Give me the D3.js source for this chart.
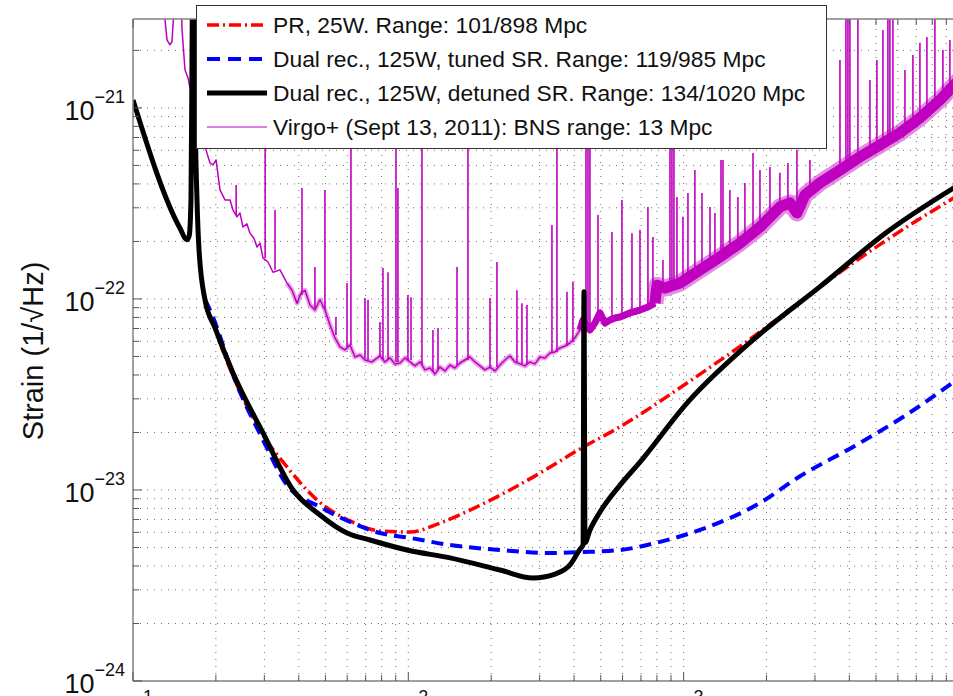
<!DOCTYPE html>
<meta charset="utf-8">
<script src="https://d3js.org/d3.v7.min.js"></script>
<style>
  body { margin: 0; background: #fff; }
  text { font-family: "Liberation Sans", Arial, Helvetica, sans-serif; }
</style>
<div id="chart"></div>
<script>

// ---- values: frequency (Hz) and strain (1/sqrt(Hz)) ----

// PR, 25W
var prFreq   = [18.26, 23.08, 29.66, 36.26, 46.6, 61.4, 78.9, 101.4, 130.4, 167.6, 234.1, 313.8, 420.5, 587.5, 1029, 1787, 3131, 5483, 10000];
var prStrain = [9.9e-23, 3.95e-23, 1.94e-23, 1.32e-23, 8.87e-24, 6.89e-24, 6.10e-24, 6.02e-24, 6.71e-24, 7.85e-24, 1.0e-23, 1.27e-23, 1.64e-23, 2.14e-23, 3.63e-23, 6.32e-23, 1.16e-22, 2.04e-22, 3.51e-22];

// Dual recycling, tuned SR
var tunedFreq   = [18.26, 19.04, 23.7, 29.66, 36.26, 47.78, 61.4, 78.9, 101.4, 141.8, 215.4, 327.2, 431.1, 587.5, 821, 1147, 1895, 2648, 4124, 6266, 10000];
var tunedStrain = [9.9e-23, 8.75e-23, 3.63e-23, 1.83e-23, 1.06e-23, 8.15e-24, 6.80e-24, 5.95e-24, 5.61e-24, 5.15e-24, 4.85e-24, 4.68e-24, 4.73e-24, 4.85e-24, 5.35e-24, 6.18e-24, 8.55e-24, 1.18e-23, 1.68e-23, 2.41e-23, 3.85e-23];

// Dual recycling, detuned SR
var detunedFreq   = [10, 14.8, 15.7, 16.0, 16.24, 16.38, 16.5, 16.65, 16.8, 17.08, 17.37, 18.26, 19.86, 23.08, 29.66, 38.13, 47.78, 59.9, 72.6, 98.9, 141.8, 215.4, 283.8, 341.2, 386.6, 420.5, 431.1, 434.7, 438.4, 457.1, 497, 587.5, 694.3, 1029, 1787, 3131, 5483, 10000];
var detunedStrain = [1.10e-21, 2.35e-22, 2.04e-22, 2.14e-22, 3.3e-22, 1.78e-21, 8e-21, 8e-21, 1.1e-21, 3.3e-22, 1.81e-22, 9.9e-23, 7.05e-23, 4.10e-23, 1.99e-23, 1.0e-23, 7.4e-24, 5.95e-24, 5.47e-24, 4.85e-24, 4.41e-24, 3.81e-24, 3.46e-24, 3.63e-24, 4.05e-24, 4.9e-24, 5.15e-24, 1.09e-22, 5.3e-24, 6.18e-24, 7.67e-24, 1.06e-23, 1.40e-23, 2.85e-23, 6.1e-23, 1.16e-22, 2.24e-22, 3.96e-22];

// Virgo+ measured sensitivity (floor of the trace)
var virgoFreq = [10, 12.8, 13.07, 13.29, 13.62, 13.85, 14.09, 14.33, 14.81, 15.07, 15.45, 15.84, 16.11, 16.38, 16.65, 17.51,
  18.41, 19.04, 19.53, 20.03, 20.70, 21.58, 22.51, 23.08, 23.86, 24.46, 25.09, 25.94, 26.60, 27.51, 28.20, 28.93, 29.66,
  30.93, 32.25, 34.20, 36.26, 37.81, 39.41, 40.75, 42.14, 43.95, 45.81, 47.77, 49.81, 51.94, 54.16, 56.47, 58.88, 61.4,
  64.0, 66.8, 69.6, 73.8, 78.9, 82.3, 85.8, 89.5, 93.3, 97.2, 101.4, 105.7, 110.3, 115.0, 119.9, 125.0, 130.3, 135.9,
  141.7, 147.7, 154.0, 160.6, 167.5, 174.6, 182.1, 189.8, 198.0, 206.4, 215.3, 224.4, 234.0, 244.0, 254.4, 265.3, 276.6,
  288.4, 300.7, 313.5, 326.9, 340.9, 355.4, 370.7, 386.5, 403.0, 420.3, 431.1, 457, 476.4, 496.8, 518.0, 540.1, 563.1,
  587.5, 638.5, 694.3, 742.0, 787.0, 800.5, 855.3, 969.8, 1147, 1356, 1602, 1894, 2238, 2434, 2580, 2759, 3128, 3698,
  4371, 5167, 6107, 7218, 8531, 10000];
var virgoStrain = [8e-21, 8e-21, 2.89e-21, 2.27e-21, 2.14e-21, 2.22e-21, 3.26e-21, 8e-21, 8e-21, 2.56e-21, 1.58e-21, 1.44e-21, 1.27e-21, 1.58e-21, 8e-21, 1.1e-21,
  6.03e-22, 5.15e-22, 5.03e-22, 5.34e-22, 3.72e-22, 3.30e-22, 3.30e-22, 2.92e-22, 2.69e-22, 2.82e-22, 2.38e-22, 2.47e-22, 2.21e-22, 2.08e-22, 1.87e-22, 1.96e-22, 1.64e-22,
  1.56e-22, 1.38e-22, 1.42e-22, 1.21e-22, 1.11e-22, 9.5e-23, 1.07e-22, 1.11e-22, 9.3e-23, 8.75e-23, 9.9e-23, 8.75e-23, 7.31e-23, 6.25e-23, 5.61e-23, 5.41e-23, 5.74e-23,
  4.97e-23, 5.09e-23, 4.79e-23, 4.68e-23, 5.03e-23, 4.68e-23, 4.91e-23, 4.57e-23, 4.62e-23, 4.91e-23, 4.68e-23, 4.46e-23, 4.68e-23, 4.25e-23, 4.35e-23, 4.05e-23, 4.40e-23, 4.20e-23,
  4.51e-23, 4.35e-23, 4.62e-23, 4.79e-23, 4.97e-23, 4.68e-23, 4.46e-23, 4.25e-23, 4.40e-23, 4.20e-23, 4.51e-23, 4.79e-23, 5.03e-23, 4.68e-23, 4.57e-23, 4.46e-23, 4.68e-23,
  4.57e-23, 4.97e-23, 4.91e-23, 5.21e-23, 5.28e-23, 5.54e-23, 5.67e-23, 5.88e-23, 6.25e-23, 6.88e-23, 7.76e-23, 6.88e-23, 7.48e-23, 8.45e-23, 7.48e-23, 7.76e-23, 7.95e-23,
  8.04e-23, 8.45e-23, 8.75e-23, 9.08e-23, 9.5e-23, 1.18e-22, 1.14e-22, 1.21e-22, 1.42e-22, 1.66e-22, 1.96e-22, 2.38e-22, 3.03e-22, 3.18e-22, 2.82e-22, 3.50e-22, 4.05e-22, 4.73e-22,
  5.54e-22, 6.40e-22, 7.40e-22, 8.87e-22, 1.10e-21, 1.40e-21];

// Virgo+ spectral lines: frequency, foot and tip of each line
var lineFreq = [23.7, 30.2, 32.8, 41.1, 45.8, 49.8, 54.6, 59.9, 61.9, 69.6, 71.4, 78.9, 80.9, 84.4, 90.2, 91.7, 99.7, 102.3,
  112.1, 122.9, 128.2, 150.3, 164.7, 198.0, 209.9, 248.1, 258.7, 269.8, 332.5, 346.7, 377.0, 396.3, 441.9, 449.4, 456.9,
  488.7, 549.2, 597.0, 649.3, 694.3, 742.0, 773.8, 841.4, 892.1, 907.1, 922.4, 945.8, 994.5, 1037, 1099, 1166, 1247, 1300,
  1367, 1390, 1473, 1575, 1670, 1787, 1894, 2059, 2238, 2393, 2580, 2877, 3698, 3887, 3953, 4019, 4297, 4752, 5037, 5297,
  5523, 5616, 5759, 6368, 6808, 7218, 7653, 8182, 8748, 9275];
var lineLow = [2.75e-22, 1.64e-22, 1.42e-22, 1.05e-22, 8.97e-23, 8.75e-23, 6.48e-23, 5.61e-23, 5.74e-23, 4.91e-23, 4.79e-23, 5.03e-23, 4.79e-23, 4.79e-23, 4.68e-23, 4.68e-23, 4.79e-23, 4.79e-23,
  4.51e-23, 4.15e-23, 4.25e-23, 4.51e-23, 4.79e-23, 4.40e-23, 4.40e-23, 4.68e-23, 4.57e-23, 4.57e-23, 5.21e-23, 5.28e-23, 5.67e-23, 5.95e-23, 6.88e-23, 6.88e-23, 6.88e-23,
  7.95e-23, 7.76e-23, 8.04e-23, 8.45e-23, 8.75e-23, 9.08e-23, 9.3e-23, 1.14e-22, 1.18e-22, 1.18e-22, 1.18e-22, 1.21e-22, 1.21e-22, 1.26e-22, 1.34e-22, 1.42e-22, 1.51e-22, 1.56e-22,
  1.64e-22, 1.64e-22, 1.76e-22, 1.92e-22, 2.04e-22, 2.16e-22, 2.38e-22, 2.65e-22, 3.03e-22, 3.10e-22, 2.92e-22, 3.72e-22, 4.73e-22, 5.0e-22, 5.0e-22, 5.0e-22, 5.54e-22, 6.03e-22, 6.17e-22, 6.25e-22,
  6.40e-22, 6.40e-22, 6.56e-22, 7.67e-22, 7.95e-22, 8.87e-22, 9.2e-22, 1.0e-21, 1.10e-21, 1.17e-21];
var lineHigh = [3.95e-22, 8.65e-22, 2.92e-22, 3.81e-22, 1.47e-22, 3.72e-22, 8.04e-23, 1.21e-22, 8.65e-22, 1.01e-22, 9.9e-23, 7.58e-23, 1.45e-22, 1.38e-22, 8.65e-22, 3.81e-22, 1.05e-22, 1.02e-22,
  8.65e-22, 6.88e-23, 7.05e-23, 1.47e-22, 8.65e-22, 1.01e-22, 1.56e-22, 1.11e-22, 9.5e-23, 9.3e-23, 2.44e-22, 8.65e-22, 1.09e-22, 1.23e-22, 8.65e-22, 8.65e-22, 8.65e-22,
  2.75e-22, 2.24e-22, 3.30e-22, 2.21e-22, 2.30e-22, 3.03e-22, 2.11e-22, 1.60e-22, 8.65e-22, 8.65e-22, 8.65e-22, 3.42e-22, 2.69e-22, 3.59e-22, 4.73e-22, 3.59e-22, 3.03e-22, 2.82e-22,
  5.34e-22, 5.34e-22, 3.72e-22, 3.42e-22, 4.05e-22, 5.81e-22, 4.73e-22, 4.91e-22, 4.57e-22, 5.15e-22, 6.03e-22, 5.34e-22, 1.78e-21, 5e-21, 5e-21, 5e-21, 5e-21, 1.40e-21, 1.78e-21, 2.56e-21,
  5e-21, 5e-21, 5e-21, 1.58e-21, 1.89e-21, 2.19e-21, 2.35e-21, 5e-21, 2.01e-21, 2.27e-21];

var legendLabels = [
  "PR, 25W. Range: 101/898 Mpc",
  "Dual rec., 125W, tuned SR. Range: 119/985 Mpc",
  "Dual rec., 125W, detuned SR. Range: 134/1020 Mpc",
  "Virgo+ (Sept 13, 2011): BNS range: 13 Mpc"
];
var xTickExponents = [1, 2, 3];
var yTickExponents = [-24, -23, -22, -21];

// ---- layout ----
var width = 953, height = 696;
var plot = {left: 133, right: 958.9, top: 19, bottom: 681};

var svg = d3.select("#chart")
  .append("svg")
    .attr("width", width)
    .attr("height", height);

var x = d3.scaleLog().domain([10, 10000]).range([plot.left, plot.right]);
var y = d3.scaleLog().domain([1e-24, 2.92e-21]).range([plot.bottom, plot.top]);

// all decade + minor tick values
var xTicks = [], yTicks = [];
xTickExponents.forEach(function(e) {
  for (var k = 1; k <= 9; k++) xTicks.push(k * Math.pow(10, e));
});
yTickExponents.forEach(function(e) {
  for (var k = 1; k <= 9; k++) {
    var v = k * Math.pow(10, e);
    if (v <= y.domain()[1]) yTicks.push(v);
  }
});
function isMajor(v) { var l = Math.log10(v); return Math.abs(l - Math.round(l)) < 1e-9; }

svg.append("defs").append("clipPath").attr("id", "clip")
  .append("rect")
    .attr("x", plot.left).attr("y", plot.top)
    .attr("width", plot.right - plot.left).attr("height", plot.bottom - plot.top);

// dotted grid
var grid = svg.append("g").attr("stroke", "#444").attr("stroke-width", 1)
  .attr("stroke-dasharray", "1,6").attr("opacity", 0.75);
grid.selectAll(".gx").data(xTicks.filter(function(v) { return v > 10; }))
  .enter().append("line")
    .attr("x1", function(d) { return x(d); }).attr("x2", function(d) { return x(d); })
    .attr("y1", plot.bottom).attr("y2", plot.top);
grid.selectAll(".gy").data(yTicks.filter(function(v) { return v > 1e-24; }))
  .enter().append("line")
    .attr("y1", function(d) { return y(d); }).attr("y2", function(d) { return y(d); })
    .attr("x1", plot.left).attr("x2", plot.right);

// curves
var curves = svg.append("g").attr("clip-path", "url(#clip)");

function pairs(fs, hs) { return fs.map(function(f, i) { return {f: f, h: hs[i]}; }); }

var lineLin = d3.line().x(function(d) { return x(d.f); }).y(function(d) { return y(d.h); });
var lineSmooth = d3.line().curve(d3.curveMonotoneX)
  .x(function(d) { return x(d.f); }).y(function(d) { return y(d.h); });

var virgoColor = "#bf00bf";
var virgo = pairs(virgoFreq, virgoStrain);

// noisy band of the measured trace gets wider at high frequency
curves.append("path").datum(virgo.filter(function(d) { return d.f >= 36 && d.f <= 440; }))
  .attr("d", lineLin).attr("fill", "none").attr("stroke", virgoColor).attr("opacity", 0.35)
  .attr("stroke-width", 5).attr("stroke-linejoin", "round");
curves.append("path").datum(virgo.filter(function(d) { return d.f >= 420 && d.f <= 800; }))
  .attr("d", lineLin).attr("fill", "none").attr("stroke", virgoColor)
  .attr("stroke-width", 7).attr("stroke-linejoin", "round");
curves.append("path").datum(virgo.filter(function(d) { return d.f >= 787; }))
  .attr("d", lineLin).attr("fill", "none").attr("stroke", virgoColor).attr("opacity", 0.45)
  .attr("stroke-width", 17).attr("stroke-linejoin", "round");
curves.append("path").datum(virgo.filter(function(d) { return d.f >= 787; }))
  .attr("d", lineLin).attr("fill", "none").attr("stroke", virgoColor)
  .attr("stroke-width", 11).attr("stroke-linejoin", "round");
curves.append("path").datum(virgo)
  .attr("d", lineLin).attr("fill", "none").attr("stroke", virgoColor)
  .attr("stroke-width", 1.5).attr("stroke-linejoin", "round");

curves.selectAll(".vline").data(lineFreq.map(function(f, i) { return {f: f, lo: lineLow[i], hi: lineHigh[i]}; }))
  .enter().append("line")
    .attr("x1", function(d) { return x(d.f); }).attr("x2", function(d) { return x(d.f); })
    .attr("y1", function(d) { return y(d.lo); }).attr("y2", function(d) { return y(d.hi); })
    .attr("stroke", virgoColor).attr("stroke-width", 1.6);

curves.append("path").datum(pairs(prFreq, prStrain))
  .attr("d", lineSmooth).attr("fill", "none").attr("stroke", "#ff0000")
  .attr("stroke-width", 3.5).attr("stroke-dasharray", "12,4,2,4");

curves.append("path").datum(pairs(tunedFreq, tunedStrain))
  .attr("d", lineSmooth).attr("fill", "none").attr("stroke", "#0000ff")
  .attr("stroke-width", 4).attr("stroke-dasharray", "12,7");

curves.append("path").datum(pairs(detunedFreq, detunedStrain))
  .attr("d", lineSmooth).attr("fill", "none").attr("stroke", "#000")
  .attr("stroke-width", 5).attr("stroke-linejoin", "round");

// axes box and inward ticks
var axisColor = "#808080";
var ax = svg.append("g");
ax.append("line").attr("x1", plot.left).attr("x2", plot.left).attr("y1", plot.top).attr("y2", plot.bottom)
  .attr("stroke", axisColor).attr("stroke-width", 1.5);
ax.append("line").attr("x1", plot.left).attr("x2", plot.right).attr("y1", plot.bottom).attr("y2", plot.bottom)
  .attr("stroke", axisColor).attr("stroke-width", 1.5);
ax.append("line").attr("x1", plot.left).attr("x2", plot.right).attr("y1", plot.top).attr("y2", plot.top)
  .attr("stroke", axisColor).attr("stroke-width", 1.5);

ax.selectAll(".ty").data(yTicks).enter().append("line")
  .attr("x1", plot.left).attr("x2", function(d) { return plot.left + (isMajor(d) ? 9 : 6); })
  .attr("y1", function(d) { return y(d); }).attr("y2", function(d) { return y(d); })
  .attr("stroke", "#555").attr("stroke-width", 1);
ax.selectAll(".tx").data(xTicks).enter().append("line")
  .attr("x1", function(d) { return x(d); }).attr("x2", function(d) { return x(d); })
  .attr("y1", plot.bottom).attr("y2", function(d) { return plot.bottom - (isMajor(d) ? 9 : 6); })
  .attr("stroke", "#555").attr("stroke-width", 1);
ax.selectAll(".tt").data(xTicks).enter().append("line")
  .attr("x1", function(d) { return x(d); }).attr("x2", function(d) { return x(d); })
  .attr("y1", plot.top).attr("y2", function(d) { return plot.top + (isMajor(d) ? 9 : 6); })
  .attr("stroke", "#555").attr("stroke-width", 1);

// tick labels as 10^n (the x labels sit mostly below the picture's edge, as in the original)
var yl = svg.selectAll(".yl").data(yTickExponents).enter().append("text")
  .attr("x", 125).attr("y", function(d) { return y(Math.pow(10, d)) + 12; })
  .attr("text-anchor", "end").attr("font-size", 27).attr("fill", "#111");
yl.append("tspan").text("10");
yl.append("tspan").attr("dy", -17).attr("font-size", 18).text(function(d) { return "\u2212" + Math.abs(d); });

var xl = svg.selectAll(".xl").data(xTickExponents).enter().append("text")
  .attr("x", function(d) { return x(Math.pow(10, d)); }).attr("y", 720)
  .attr("text-anchor", "middle").attr("font-size", 27).attr("fill", "#111");
xl.append("tspan").text("10");
xl.append("tspan").attr("dy", -17).attr("font-size", 18).text(function(d) { return d; });

svg.append("text")
  .attr("transform", "translate(43,351)rotate(-90)")
  .attr("text-anchor", "middle").attr("font-size", 29).attr("fill", "#111")
  .text("Strain (1/\u221AHz)");

// legend
var lg = svg.append("g");
lg.append("rect").attr("x", 196.5).attr("y", 5.5).attr("width", 630).attr("height", 143)
  .attr("fill", "#fff").attr("stroke", "#333").attr("stroke-width", 1);
var legendStyles = [
  {color: "#ff0000", width: 3.5, dash: "12,4,2,4"},
  {color: "#0000ff", width: 4, dash: "13,8"},
  {color: "#000", width: 5, dash: null},
  {color: virgoColor, width: 1, dash: null}
];
legendLabels.forEach(function(label, i) {
  var base = 33 + i * 34;
  var s = legendStyles[i];
  lg.append("line").attr("x1", 207).attr("x2", 267).attr("y1", base - 8).attr("y2", base - 8)
    .attr("stroke", s.color).attr("stroke-width", s.width)
    .attr("stroke-dasharray", s.dash);
  lg.append("text").attr("x", 273).attr("y", base).attr("font-size", 22.8).attr("fill", "#111")
    .text(label);
});

</script>
